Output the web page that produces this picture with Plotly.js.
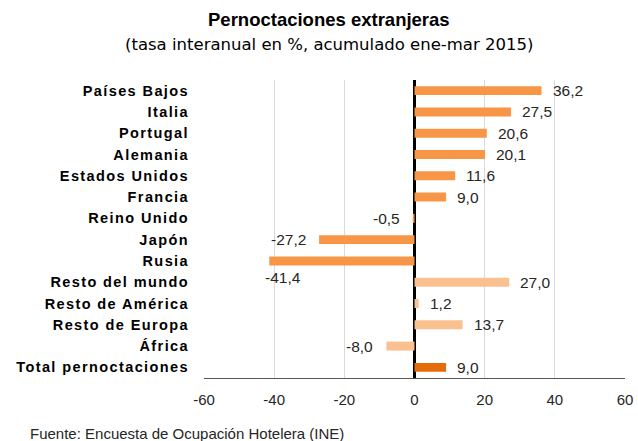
<!DOCTYPE html>
<html>
<head>
<meta charset="utf-8">
<script src="https://cdn.plot.ly/plotly-3.0.1.min.js"></script>
<style>
html,body{margin:0;padding:0;background:#fff;}
#chart{width:638px;height:441px;}
#chart .ytick text{letter-spacing:1.4px;}
</style>
</head>
<body>
<div id="chart"></div>
<script>
const categories = ["Países Bajos","Italia","Portugal","Alemania","Estados Unidos","Francia","Reino Unido","Japón","Rusia","Resto del mundo","Resto de América","Resto de Europa","África","Total pernoctaciones"];
const values = [36.2,27.5,20.6,20.1,11.6,9.0,-0.5,-27.2,-41.4,27.0,1.2,13.7,-8.0,9.0];
const groups = ["país","país","país","país","país","país","país","país","país","resto","resto","resto","resto","total"];
const groupColors = {"país":"#F79646","resto":"#FAC090","total":"#E46C0A"};
const tickVals = [-60,-40,-20,0,20,40,60];

const fmt = v => v.toFixed(1).replace('.', ',');
const FONT = 'Liberation Sans, Arial, sans-serif';

const annotations = values.map((v, i) => {
  const a = {
    x: v, y: categories[i], xref: 'x', yref: 'y',
    text: fmt(v), showarrow: false,
    font: {family: FONT, size: 15.5, color: '#262626'},
    xanchor: v >= 0 ? 'left' : 'right',
    xshift: v >= 0 ? 9 : -11, yshift: 0
  };
  if (categories[i] === 'Rusia') { a.xanchor = 'left'; a.xshift = -6; a.yshift = -17; }
  return a;
});
annotations.push({
  xref: 'paper', yref: 'paper', x: 0.297, y: 1, yshift: 61, xanchor: 'center', yanchor: 'middle',
  text: '<b>Pernoctaciones extranjeras</b>', showarrow: false,
  font: {family: FONT, size: 18.5, color: '#000'}
});
annotations.push({
  xref: 'paper', yref: 'paper', x: 0.297, y: 1, yshift: 36, xanchor: 'center', yanchor: 'middle',
  text: '(tasa interanual en %, acumulado ene-mar 2015)', showarrow: false,
  font: {family: 'DejaVu Sans, sans-serif', size: 16.5, color: '#000'}
});
annotations.push({
  xref: 'paper', yref: 'paper', x: 0, xshift: -176, y: 0, yshift: -55, xanchor: 'left', yanchor: 'middle',
  text: 'Fuente: Encuesta de Ocupación Hotelera (INE)', showarrow: false,
  font: {family: FONT, size: 15, color: '#262626'}
});

const trace = {
  type: 'bar', orientation: 'h',
  x: values, y: categories,
  marker: {color: groups.map(g => groupColors[g])},
  width: 0.42, hoverinfo: 'none'
};

const layout = {
  width: 638, height: 441,
  margin: {l: 204, r: 13, t: 80, b: 63},
  paper_bgcolor: '#fff', plot_bgcolor: '#fff',
  showlegend: false,
  xaxis: {
    range: [-60, 60], tickvals: tickVals, ticktext: tickVals.map(String),
    showgrid: true, gridcolor: '#d9d9d9', gridwidth: 1,
    zeroline: true, zerolinecolor: '#000', zerolinewidth: 3,
    showline: true, linecolor: '#595959', linewidth: 1,
    ticks: '', ticklen: 0, ticklabelstandoff: 8,
    tickfont: {family: FONT, size: 15, color: '#262626'}
  },
  yaxis: {
    autorange: 'reversed', type: 'category',
    showgrid: false, zeroline: false, showline: false, ticks: '',
    ticklabelstandoff: 14,
    tickfont: {family: FONT, size: 14.5, color: '#000', weight: 'bold'}
  },
  annotations: annotations
};

Plotly.newPlot('chart', [trace], layout, {staticPlot: true, displayModeBar: false});
</script>
</body>
</html>
